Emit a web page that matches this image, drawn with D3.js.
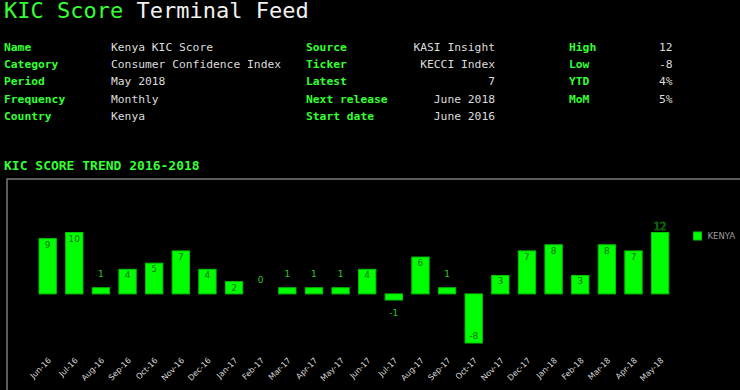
<!DOCTYPE html>
<html>
<head>
<meta charset="utf-8">
<script src="https://cdn.jsdelivr.net/npm/d3@7"></script>
<style>
  html, body { margin: 0; padding: 0; background: #000; }
  svg { display: block; }
</style>
</head>
<body>
<svg id="container" width="740" height="390"></svg>
<script>
(function (d3) {
  'use strict';

  // month labels and KIC score values
  const months = [
    'Jun-16', 'Jul-16', 'Aug-16', 'Sep-16', 'Oct-16', 'Nov-16', 'Dec-16',
    'Jan-17', 'Feb-17', 'Mar-17', 'Apr-17', 'May-17', 'Jun-17', 'Jul-17',
    'Aug-17', 'Sep-17', 'Oct-17', 'Nov-17', 'Dec-17', 'Jan-18', 'Feb-18',
    'Mar-18', 'Apr-18', 'May-18'
  ];
  const scores = [9, 10, 1, 4, 5, 7, 4, 2, 0, 1, 1, 1, 4, -1, 6, 1, -8, 3, 7, 8, 3, 8, 7, 12];
  const seriesName = 'KENYA';
  const yDomain = [-8, 10];

  const infoCol1 = [
    ['Name', 'Kenya KIC Score'],
    ['Category', 'Consumer Confidence Index'],
    ['Period', 'May 2018'],
    ['Frequency', 'Monthly'],
    ['Country', 'Kenya']
  ];
  const infoCol2 = [
    ['Source', 'KASI Insight'],
    ['Ticker', 'KECCI Index'],
    ['Latest', '7'],
    ['Next release', 'June 2018'],
    ['Start date', 'June 2016']
  ];
  const infoCol3 = [
    ['High', '12'],
    ['Low', '-8'],
    ['YTD', '4%'],
    ['MoM', '5%']
  ];

  const GREEN = '#33ff33';
  const MONO = '"DejaVu Sans Mono", "Liberation Mono", monospace';
  const SANS = '"DejaVu Sans", Verdana, sans-serif';

  const svg = d3.select('#container');

  // title
  const title = svg.append('text')
    .attr('x', 4)
    .attr('y', 18)
    .style('font-family', MONO)
    .style('font-size', '22px');
  title.append('tspan').attr('fill', GREEN).text('KIC Score ');
  title.append('tspan').attr('fill', '#f2f2f2').text('Terminal Feed');

  // info grid
  const rowY = (i) => 50.5 + i * 17.4;

  const drawColumn = (rows, labelX, valueX, valueAnchor) => {
    const g = svg.append('g')
      .style('font-family', MONO)
      .style('font-size', '11.3px');
    g.selectAll('text.lbl')
      .data(rows)
      .enter()
      .append('text')
      .attr('class', 'lbl')
      .attr('x', labelX)
      .attr('y', (d, i) => rowY(i))
      .attr('fill', GREEN)
      .style('font-weight', 'bold')
      .text((d) => d[0]);
    g.selectAll('text.val')
      .data(rows)
      .enter()
      .append('text')
      .attr('class', 'val')
      .attr('x', valueX)
      .attr('y', (d, i) => rowY(i))
      .attr('fill', '#dcdcdc')
      .attr('text-anchor', valueAnchor)
      .text((d) => d[1]);
  };

  drawColumn(infoCol1, 4, 111, 'start');
  drawColumn(infoCol2, 306, 495, 'end');
  drawColumn(infoCol3, 569, 659, 'start');

  // section title
  svg.append('text')
    .attr('x', 4)
    .attr('y', 170)
    .attr('fill', GREEN)
    .style('font-family', MONO)
    .style('font-size', '13px')
    .style('font-weight', 'bold')
    .text('KIC SCORE TREND 2016-2018');

  // chart frame
  svg.append('rect')
    .attr('x', 7)
    .attr('y', 179)
    .attr('width', 760)
    .attr('height', 240)
    .attr('fill', 'none')
    .attr('stroke', '#7a7a7a')
    .attr('stroke-width', 1.5);

  const x = d3.scaleBand()
    .domain(months)
    .range([29.7, 678.1])
    .paddingInner(0.35)
    .paddingOuter(0.35);

  const y = d3.scaleLinear()
    .domain(yDomain)
    .range([343, 232.5])
    .clamp(true);

  const data = months.map((m, i) => ({ month: m, value: scores[i] }));

  // bars
  svg.append('g')
    .selectAll('rect')
    .data(data.filter((d) => d.value !== 0))
    .enter()
    .append('rect')
    .attr('x', (d) => x(d.month))
    .attr('width', x.bandwidth())
    .attr('y', (d) => Math.min(y(d.value), y(0)))
    .attr('height', (d) => Math.abs(y(d.value) - y(0)))
    .attr('fill', '#00ff00')
    .attr('stroke', '#00c400')
    .attr('stroke-width', 1);

  // value labels
  const labelY = (d) => {
    const v = d.value;
    if (v > yDomain[1]) return y(v) - 3;
    if (v >= 2) return y(v) + 9;
    if (v >= 0) return y(v) - 11;
    if (v <= -2) return y(v) - 4;
    return y(v) + 16;
  };
  const labelColor = (d) => {
    const v = d.value;
    if (v > yDomain[1]) return '#00ff00';
    if (v >= 2 || v <= -2) return '#1a6e1a';
    return '#2ec82e';
  };

  svg.append('g')
    .selectAll('text')
    .data(data)
    .enter()
    .append('text')
    .attr('x', (d) => x(d.month) + x.bandwidth() / 2)
    .attr('y', labelY)
    .attr('text-anchor', 'middle')
    .attr('fill', labelColor)
    .attr('stroke', (d) => (d.value > yDomain[1] ? '#0a5a0a' : 'none'))
    .attr('stroke-width', 0.8)
    .style('font-family', SANS)
    .style('font-size', (d) => (d.value > yDomain[1] ? '10px' : '9px'))
    .text((d) => d.value);

  // x tick labels
  svg.append('g')
    .selectAll('text')
    .data(months)
    .enter()
    .append('text')
    .attr('transform', (m) => {
      const cx = x(m) + x.bandwidth() / 2 + 4;
      return `translate(${cx},361) rotate(-45)`;
    })
    .attr('text-anchor', 'end')
    .attr('fill', '#d8d8d8')
    .style('font-family', SANS)
    .style('font-size', '8px')
    .text((m) => m);

  // legend
  const legend = svg.append('g').attr('transform', 'translate(693.5,232)');
  legend.append('rect')
    .attr('width', 8)
    .attr('height', 8)
    .attr('fill', '#00ff00')
    .attr('stroke', '#00c400');
  legend.append('text')
    .attr('x', 14)
    .attr('y', 7.3)
    .attr('fill', '#9a9a9a')
    .style('font-family', SANS)
    .style('font-size', '8.5px')
    .text(seriesName);

}(d3));
</script>
</body>
</html>
